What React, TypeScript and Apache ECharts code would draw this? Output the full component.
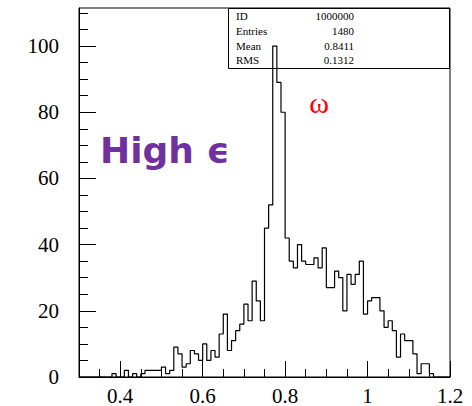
import React, { useEffect, useRef } from "react";
import * as echarts from "echarts";

// Histogram bin edges (lower edges plus the final upper edge)
const binEdges = [
  0.30, 0.31, 0.32, 0.33, 0.34, 0.35, 0.36, 0.37, 0.38, 0.39,
  0.40, 0.41, 0.42, 0.43, 0.44, 0.45, 0.46, 0.47, 0.48, 0.49,
  0.50, 0.51, 0.52, 0.53, 0.54, 0.55, 0.56, 0.57, 0.58, 0.59,
  0.60, 0.61, 0.62, 0.63, 0.64, 0.65, 0.66, 0.67, 0.68, 0.69,
  0.70, 0.71, 0.72, 0.73, 0.74, 0.75, 0.76, 0.77, 0.78, 0.79,
  0.80, 0.81, 0.82, 0.83, 0.84, 0.85, 0.86, 0.87, 0.88, 0.89,
  0.90, 0.91, 0.92, 0.93, 0.94, 0.95, 0.96, 0.97, 0.98, 0.99,
  1.00, 1.01, 1.02, 1.03, 1.04, 1.05, 1.06, 1.07, 1.08, 1.09,
  1.10, 1.11, 1.12, 1.13, 1.14, 1.15, 1.16, 1.17, 1.18, 1.19,
  1.20,
];

// Entries per bin
const counts = [
  0, 0, 0, 0, 0, 0, 0, 0, 1, 0,
  0, 2, 0, 1, 0, 1, 2, 2, 2, 2,
  3, 1, 2, 9, 7, 3, 4, 8, 7, 5,
  10, 5, 8, 6, 13, 19, 8, 11, 14, 16,
  22, 17, 29, 23, 17, 45, 52, 100, 89, 80,
  42, 35, 33, 40, 35, 34, 34, 36, 33, 39,
  27, 27, 32, 30, 20, 31, 28, 31, 35, 19,
  23, 24, 24, 20, 15, 17, 14, 6, 13, 11,
  11, 7, 1, 4, 4, 1, 0, 0, 0, 0,
];

const xMajorTicks = [0.4, 0.6, 0.8, 1.0, 1.2];
const xTickLabels = ["0.4", "0.6", "0.8", "1", "1.2"];
const xMinorTicks = [0.35, 0.45, 0.5, 0.55, 0.65, 0.7, 0.75, 0.85, 0.9, 0.95, 1.05, 1.1, 1.15];
const yMajorTicks = [0, 20, 40, 60, 80, 100];
const yMinorTicks = [5, 10, 15, 25, 30, 35, 45, 50, 55, 65, 70, 75, 85, 90, 95, 105, 110];

const statsLabels = ["ID", "Entries", "Mean", "RMS"];
const statsValues = ["1000000", "1480", "0.8411", "0.1312"];

const X_MIN = 0.3;
const X_MAX = 1.2;
const Y_MIN = 0;
const Y_MAX = 111.5;

export default function App() {
  const ref = useRef<HTMLDivElement>(null);

  useEffect(() => {
    if (!ref.current) return;
    const chart = echarts.init(ref.current, undefined, { renderer: "svg" });

    const stepData = binEdges.map((e, i) => [
      e,
      i < counts.length ? counts[i] : 0,
    ]);

    const serif = "'Liberation Serif', 'Times New Roman', serif";
    const rowY = [15.5, 31, 45.5, 59.5];

    const graphics: any[] = [
      {
        type: "rect",
        z: 1,
        shape: { x: 228.5, y: 8.5, width: 221, height: 60 },
        style: { fill: "#fff", stroke: "#000", lineWidth: 1 },
      },
    ];
    statsLabels.forEach((t, i) => {
      graphics.push({
        type: "text",
        z: 5,
        x: 236,
        y: rowY[i],
        style: {
          text: t,
          fontSize: 11,
          fontFamily: serif,
          fill: "#000",
          align: "left",
          textAlign: "left",
          verticalAlign: "middle",
          textVerticalAlign: "middle",
        },
      });
      graphics.push({
        type: "text",
        z: 5,
        x: 354,
        y: rowY[i],
        style: {
          text: statsValues[i],
          fontSize: 11,
          fontFamily: serif,
          fill: "#000",
          align: "right",
          textAlign: "right",
          verticalAlign: "middle",
          textVerticalAlign: "middle",
        },
      });
    });
    graphics.push({
      type: "text",
      z: 5,
      x: 100,
      y: 150,
      style: {
        text: "High ϵ",
        fontSize: 36,
        fontWeight: "bold",
        fontFamily: "'DejaVu Sans', Verdana, sans-serif",
        fill: "#7030A0",
        align: "left",
        textAlign: "left",
        verticalAlign: "middle",
        textVerticalAlign: "middle",
      },
    });
    graphics.push({
      type: "text",
      z: 5,
      x: 319,
      y: 102,
      style: {
        text: "ω",
        fontSize: 30,
        fontFamily: serif,
        fill: "#ff0000",
        align: "center",
        textAlign: "center",
        verticalAlign: "middle",
        textVerticalAlign: "middle",
      },
    });

    const option: any = {
      animation: false,
      backgroundColor: "#fff",
      grid: {
        left: 79,
        right: 22,
        top: 8,
        bottom: 27.5,
        show: true,
        borderColor: "#000",
        borderWidth: 1,
        backgroundColor: "transparent",
      },
      xAxis: [
        {
          type: "value",
          min: X_MIN,
          max: X_MAX,
          position: "bottom",
          axisLine: { show: true, onZero: false, lineStyle: { color: "#000", width: 1 } },
          axisTick: {
            show: true,
            inside: true,
            length: 16,
            customValues: xMajorTicks,
            lineStyle: { color: "#000", width: 1 },
          },
          axisLabel: {
            show: true,
            customValues: xMajorTicks,
            formatter: (v: number) => {
              const idx = xMajorTicks.findIndex((t) => Math.abs(t - v) < 1e-9);
              return idx >= 0 ? xTickLabels[idx] : "";
            },
            margin: 8,
            fontSize: 21,
            fontFamily: serif,
            color: "#000",
            showMinLabel: true,
            showMaxLabel: true,
            hideOverlap: false,
          },
          splitLine: { show: false },
        },
        {
          type: "value",
          min: X_MIN,
          max: X_MAX,
          position: "bottom",
          axisLine: { show: false },
          axisTick: {
            show: true,
            inside: true,
            length: 8,
            customValues: xMinorTicks,
            lineStyle: { color: "#000", width: 1 },
          },
          axisLabel: { show: false },
          splitLine: { show: false },
        },
      ],
      yAxis: [
        {
          type: "value",
          min: Y_MIN,
          max: Y_MAX,
          position: "left",
          axisLine: { show: true, onZero: false, lineStyle: { color: "#000", width: 1 } },
          axisTick: {
            show: true,
            inside: true,
            length: 17,
            customValues: yMajorTicks,
            lineStyle: { color: "#000", width: 1 },
          },
          axisLabel: {
            show: true,
            customValues: yMajorTicks,
            margin: 20,
            fontSize: 21,
            fontFamily: serif,
            color: "#000",
            hideOverlap: false,
          },
          splitLine: { show: false },
        },
        {
          type: "value",
          min: Y_MIN,
          max: Y_MAX,
          position: "left",
          axisLine: { show: false },
          axisTick: {
            show: true,
            inside: true,
            length: 9,
            customValues: yMinorTicks,
            lineStyle: { color: "#000", width: 1 },
          },
          axisLabel: { show: false },
          splitLine: { show: false },
        },
      ],
      series: [
        {
          type: "line",
          xAxisIndex: 0,
          yAxisIndex: 0,
          step: "end",
          z: 3,
          symbol: "none",
          data: stepData,
          lineStyle: { color: "#000", width: 1.2 },
          clip: true,
        },
      ],
      graphic: graphics,
    };

    chart.setOption(option);
    return () => chart.dispose();
  }, []);

  return (
    <div
      ref={ref}
      style={{ position: "fixed", left: 0, top: 0, width: 472, height: 406, background: "#fff" }}
    />
  );
}
